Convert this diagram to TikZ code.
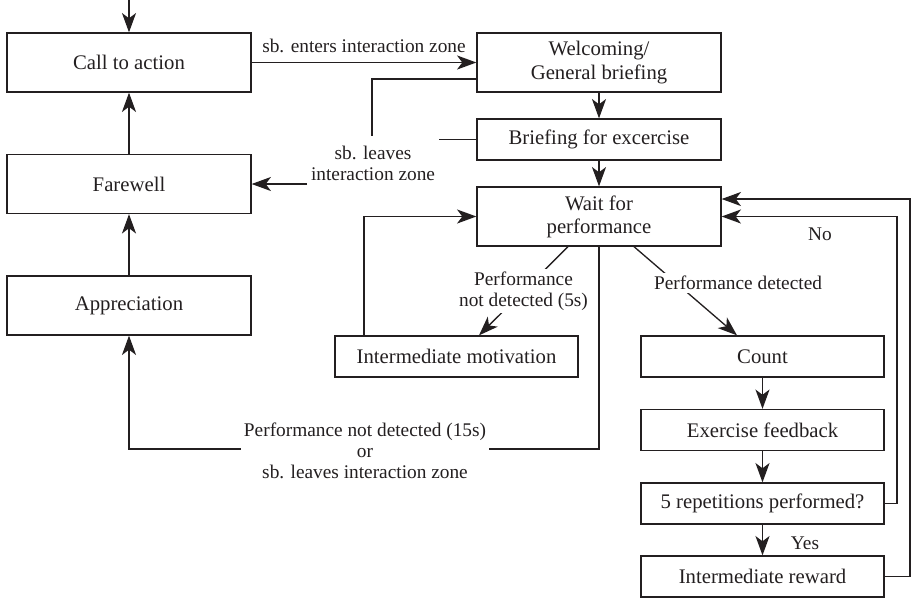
\documentclass[tikz,border=0pt]{standalone}
\usepackage{fontspec}
\setmainfont{Liberation Serif}
\usetikzlibrary{arrows.meta,calc}
\definecolor{ink}{HTML}{231F20}
\begin{document}
\begin{tikzpicture}[x=0.02cm,y=-0.02cm,
  line width=0.75pt, draw=ink,
  box/.style={draw=ink, line width=0.75pt, minimum width=4.88cm, inner sep=1pt,
    font=\fontsize{11.8}{13.2}\selectfont, text=ink, align=center},
  tall/.style={minimum height=1.18cm},
  short/.style={minimum height=0.82cm},
  lbl/.style={font=\fontsize{11}{12}\selectfont, text=ink, align=center, inner sep=1.5pt},
  wlbl/.style={lbl, fill=white},
  arr/.style={-{Stealth[length=11pt,width=8pt,inset=3pt]}}]
\useasboundingbox (0,0) rectangle (911,599);

% boxes
\node[box,tall] (call) at (129,62.5) {Call to action};
\node[box,tall] (farewell) at (129,184) {Farewell};
\node[box,tall] (appr) at (129,305.5) {Appreciation};
\node[box,tall] (welc) at (599,62.5) {Welcoming/\\General briefing};
\node[box,short] (brief) at (599,139.5) {Briefing for excercise};
\node[box,tall] (wait) at (599,216.5) {Wait for\\performance};
\node[box,short,minimum width=4.86cm] (motiv) at (456.5,356.5) {Intermediate motivation};
\node[box,short,minimum width=4.86cm] (count) at (762.5,356.5) {Count};
\node[box,short,minimum width=4.86cm] (feed) at (762.5,430) {Exercise feedback};
\node[box,short,minimum width=4.86cm] (reps) at (762.5,503.5) {5 repetitions performed?};
\node[box,short,minimum width=4.86cm] (reward) at (762.5,576.5) {Intermediate reward};

% free ends
\coordinate (start) at (129,0);
\coordinate (lv) at (372,136);
\coordinate (bl) at (439,139.5);
\coordinate (fr) at (307,184);
\coordinate (lc) at (129,449);

% top entry
\draw[arr] (start) -- (call.north);
% call -> welcoming
\draw[arr] (call.east) -- (welc.west);
\node[lbl] (lenters) at (364,46) {sb. enters interaction zone};
% main chain
\draw[arr] (welc.south) -- (brief.north);
\draw[arr] (brief.south) -- (wait.north);
% leaves interaction zone
\draw ([yshift=-0.33cm]welc.west) -| (lv);
\draw (brief.west) -- (bl);
\draw[arr] (fr) -- (farewell.east);
\node[lbl] (lleaves) at (373,163) {sb. leaves\\interaction zone};
% left column
\draw[arr] (farewell.north) -- (call.south);
\draw[arr] (appr.north) -- (farewell.south);
% motivation loop
\draw[arr] ([xshift=-1.85cm]motiv.north) |- (wait.west);
\draw[arr] ([xshift=-0.62cm]wait.south) -- node[wlbl] (lnot5) {Performance\\not detected (5s)} ([xshift=0.45cm]motiv.north);
% performance detected
\draw[arr] ([xshift=0.7cm]wait.south) -- ([xshift=-0.51cm]count.north);
\node[wlbl] (ldet) at (738,283) {Performance detected};
% timeout to appreciation
\draw[arr] (wait.south) |- (lc) -- (appr.south);
\node[wlbl] (l15) at (365,451) {Performance not detected (15s)\\or\\sb. leaves interaction zone};
% right column
\draw[arr] (count.south) -- (feed.north);
\draw[arr] (feed.south) -- (reps.north);
\draw[arr] (reps.south) -- (reward.north);
\node[wlbl] (lyes) at (805,543) {Yes};
% loops back
\draw[arr] (reps.east) -- (897,503.5) |- (wait.east);
\draw[arr] (reward.east) -- (910,576.5) |- ([yshift=0.35cm]wait.east);
\node[lbl] (lno) at (820,234) {No};
\end{tikzpicture}
\end{document}
